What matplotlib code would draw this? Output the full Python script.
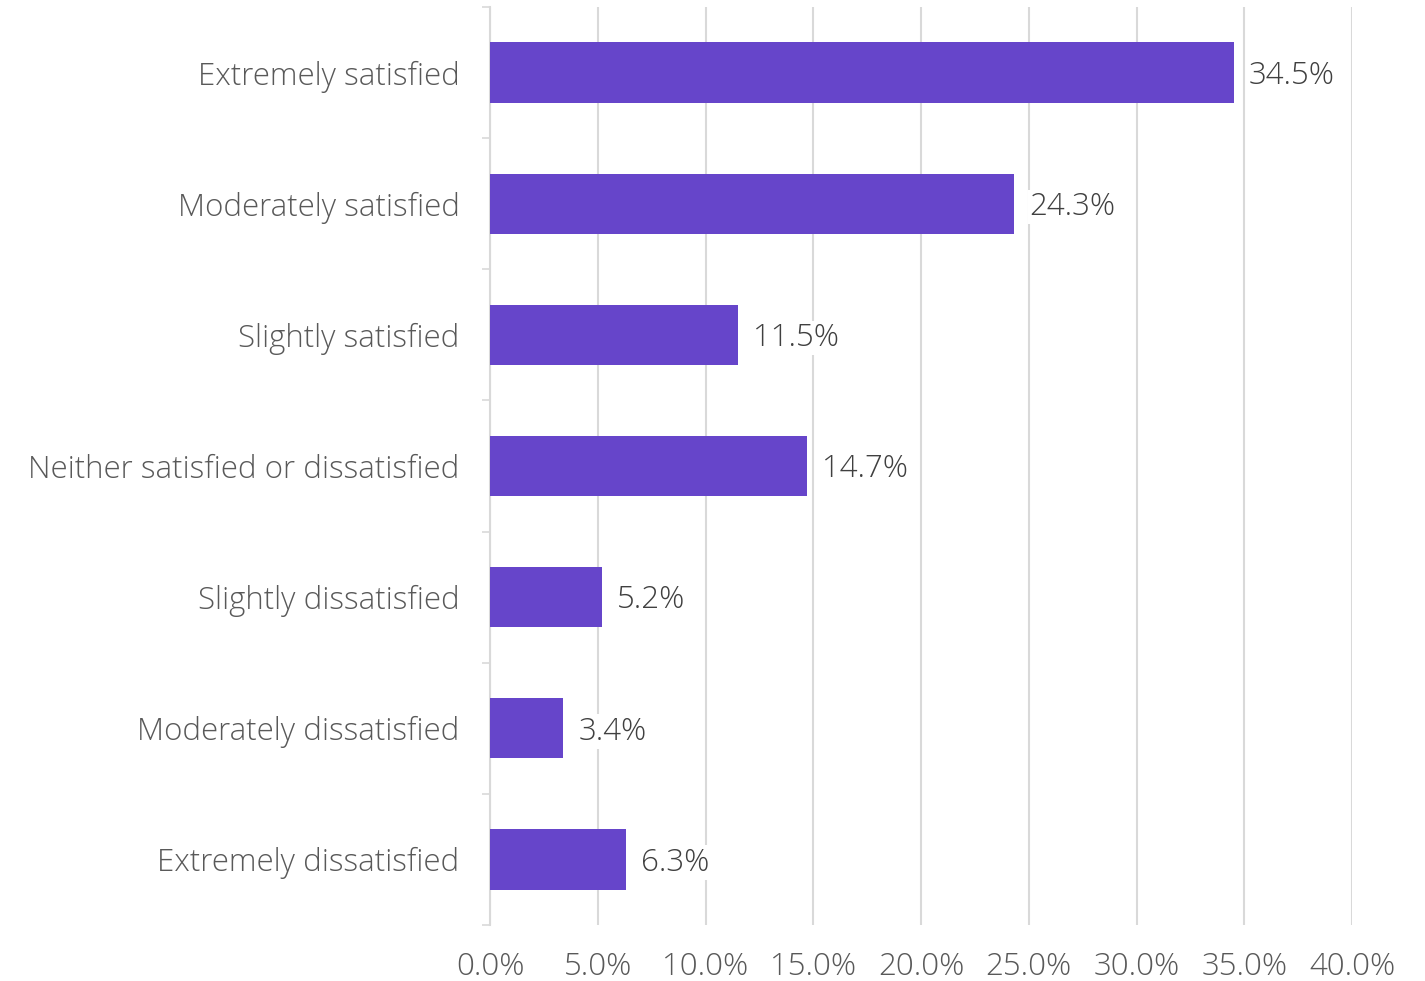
import matplotlib.pyplot as plt
import numpy as np

# Satisfaction survey results (share of respondents, %)
categories = [
    "Extremely satisfied",
    "Moderately satisfied",
    "Slightly satisfied",
    "Neither satisfied or dissatisfied",
    "Slightly dissatisfied",
    "Moderately dissatisfied",
    "Extremely dissatisfied",
]
shares = [34.5, 24.3, 11.5, 14.7, 5.2, 3.4, 6.3]
x_ticks = [0, 5, 10, 15, 20, 25, 30, 35, 40]

bar_color = "#6645CA"
line_color = "#D9D9D9"
text_color = "#595959"

plt.rcParams["font.family"] = ["Open Sans", "DejaVu Sans"]
plt.rcParams["font.weight"] = "light"

fig = plt.figure(figsize=(14.25, 9.81), dpi=100)
ax = fig.add_axes([0.3439, 0.0571, 0.6049, 0.9358])

y = np.arange(len(categories))
bars = ax.barh(y, shares, height=0.46, color=bar_color, zorder=3)

for rect, val in zip(bars, shares):
    ax.text(rect.get_width() + 0.7, rect.get_y() + rect.get_height() / 2 + 0.025,
            f"{val:.1f}%", va="center", ha="left", fontsize=22.5,
            color="#404040", zorder=4,
            bbox=dict(facecolor="white", edgecolor="none", pad=1))

ax.set_xlim(0, 40)
ax.set_ylim(len(categories) - 0.5, -0.5)

ax.set_xticks(x_ticks)
ax.set_xticklabels([f"{t:.1f}%" for t in x_ticks])
ax.set_yticks(y)
ax.set_yticklabels(categories)
ax.set_yticks(np.arange(len(categories) + 1) - 0.5, minor=True)

ax.tick_params(axis="x", length=0, pad=19, labelsize=22.5, labelcolor=text_color)
ax.tick_params(axis="y", which="major", length=0, pad=22, labelsize=22.5,
               labelcolor=text_color)
ax.tick_params(axis="y", which="minor", length=6, width=1.2, color=line_color)

ax.grid(axis="x", color=line_color, linewidth=1.5, zorder=0)
for side in ["top", "right", "bottom"]:
    ax.spines[side].set_visible(False)
ax.spines["left"].set_color(line_color)
ax.spines["left"].set_linewidth(1.5)

fig.savefig("out.png", dpi=100)
